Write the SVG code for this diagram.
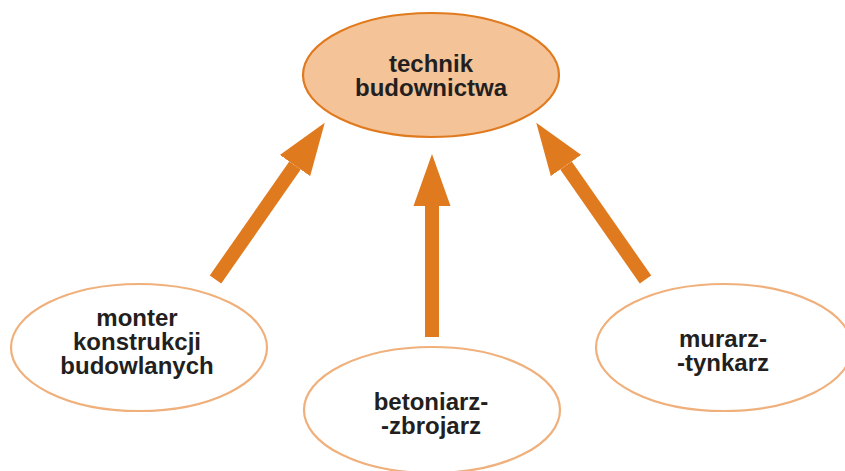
<svg xmlns="http://www.w3.org/2000/svg" width="845" height="471" viewBox="0 0 845 471">
  <style>
    .lbl { font-family: "Liberation Sans", Arial, sans-serif; font-weight: bold; font-size: 24px; fill: #231F20; text-anchor: middle; }
    .main { fill: #F4C397; stroke: #E07A1F; stroke-width: 2.2; }
    .sub { fill: #FFFFFF; stroke: #F0B07C; stroke-width: 2.2; }
    .conn { stroke: #E07A1F; stroke-width: 14; fill: none; marker-end: url(#head); }
  </style>
  <defs>
    <marker id="head" markerUnits="userSpaceOnUse" markerWidth="53" markerHeight="38" refX="0" refY="19" orient="auto">
      <path d="M0,0.5 L52,19 L0,37.5 z" fill="#E07A1F"/>
    </marker>
  </defs>
  <rect width="845" height="471" fill="#FFFFFF"/>
  <g id="connectors">
    <line class="conn" x1="215.5" y1="279.5" x2="295" y2="165.5"/>
    <line class="conn" x1="432" y1="337" x2="432" y2="206"/>
    <line class="conn" x1="645.5" y1="279.5" x2="566" y2="165.5"/>
  </g>
  <g id="technik">
    <ellipse class="main" cx="431" cy="75" rx="128" ry="62"/>
    <text class="lbl" x="431" y="72">technik</text>
    <text class="lbl" x="431" y="96">budownictwa</text>
  </g>
  <g id="monter">
    <ellipse class="sub" cx="139" cy="347.5" rx="128" ry="63.5"/>
    <text class="lbl" x="137" y="326">monter</text>
    <text class="lbl" x="137" y="350">konstrukcji</text>
    <text class="lbl" x="137" y="374">budowlanych</text>
  </g>
  <g id="betoniarz">
    <ellipse class="sub" cx="432" cy="410" rx="128" ry="63"/>
    <text class="lbl" x="431" y="410">betoniarz-</text>
    <text class="lbl" x="431" y="434">-zbrojarz</text>
  </g>
  <g id="murarz">
    <ellipse class="sub" cx="724" cy="347.5" rx="128" ry="63.5"/>
    <text class="lbl" x="723" y="347">murarz-</text>
    <text class="lbl" x="723" y="371">-tynkarz</text>
  </g>
</svg>
